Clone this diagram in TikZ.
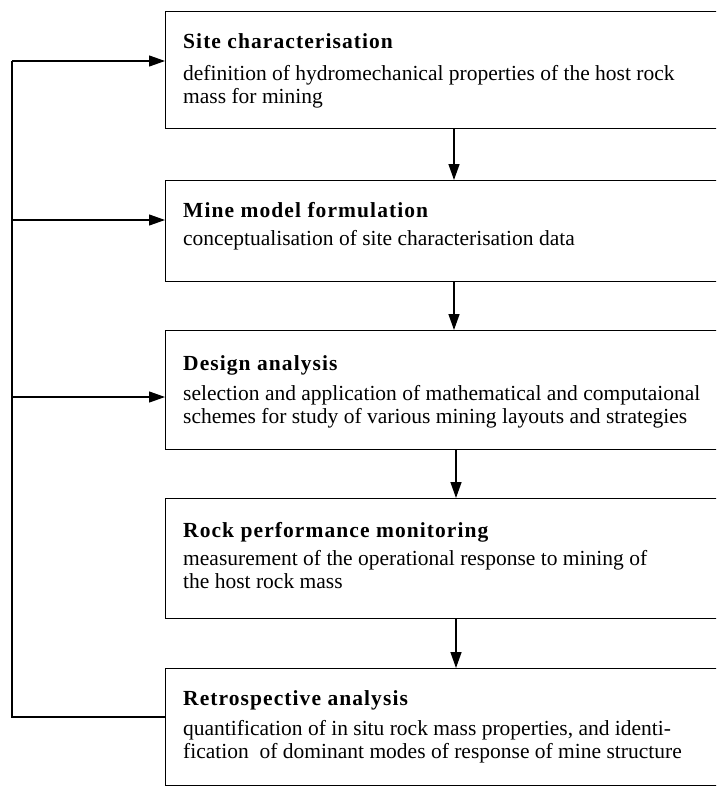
\documentclass[tikz,border=0pt]{standalone}
\usepackage{fontspec}
\setmainfont{Liberation Serif}
\newfontfamily\titlefont[LetterSpace=5]{Liberation Serif Bold}
\usetikzlibrary{arrows.meta}
\begin{document}
\begin{tikzpicture}[x=1pt,y=-1pt,
  stagebox/.style={draw,line width=1.4pt,anchor=north west,minimum width=600pt,inner sep=0pt},
  ttl/.style={anchor=base west,inner sep=0pt,font=\titlefont\fontsize{21.5}{23}\selectfont},
  body/.style={anchor=base west,inner sep=0pt,font=\fontsize{21.5}{23}\selectfont},
  flow/.style={line width=1.4pt,-{Triangle[length=16pt,width=11pt]}},
  loop/.style={line width=1.2pt}]
\useasboundingbox (0,0) rectangle (716,787);
\clip (0,0) rectangle (716,787);

% process stages
\node[stagebox,minimum height=117pt] (b1) at (165,11) {};
\node[stagebox,minimum height=101pt] (b2) at (165,180) {};
\node[stagebox,minimum height=119pt] (b3) at (165,330) {};
\node[stagebox,minimum height=120pt] (b4) at (165,498) {};
\node[stagebox,minimum height=117pt] (b5) at (165,668) {};

% stage texts
\node[ttl] (t1) at (183,48) {Site characterisation};
\node[body] (d1) at (183,80) {\begin{tabular}[t]{@{}l@{}}definition of hydromechanical properties of the host rock\\mass for mining\end{tabular}};

\node[ttl] (t2) at (183,217) {Mine model formulation};
\node[body] (d2) at (183,245) {\begin{tabular}[t]{@{}l@{}}conceptualisation of site characterisation data\end{tabular}};

\node[ttl] (t3) at (183,370) {Design analysis};
\node[body] (d3) at (183,400) {\begin{tabular}[t]{@{}l@{}}selection and application of mathematical and computaional\\schemes for study of various mining layouts and strategies\end{tabular}};

\node[ttl] (t4) at (183,537) {Rock performance monitoring};
\node[body] (d4) at (183,565) {\begin{tabular}[t]{@{}l@{}}measurement of the operational response to mining of\\the host rock mass\end{tabular}};

\node[ttl] (t5) at (183,705) {Retrospective analysis};
\node[body] (d5) at (183,735) {\begin{tabular}[t]{@{}l@{}}quantification of in situ rock mass properties, and identi-\\fication\ \ of dominant modes of response of mine structure\end{tabular}};

% downward flow between stages
\draw[flow] (b1.south -| 454,0) -- (b2.north -| 454,0);
\draw[flow] (b2.south -| 454,0) -- (b3.north -| 454,0);
\draw[flow] (b3.south -| 456,0) -- (b4.north -| 456,0);
\draw[flow] (b4.south -| 456,0) -- (b5.north -| 456,0);

% feedback loop from the retrospective analysis
\coordinate (fbBottom) at (12,717);
\coordinate (fbTop) at (12,61);
\coordinate (fbMid2) at (12,220);
\coordinate (fbMid3) at (12,397);
\draw[loop] (b5.west |- fbBottom) -- (fbBottom) -- (fbTop);
\draw[flow,line width=1.2pt] (fbTop) -- (b1.west |- fbTop);
\draw[flow,line width=1.2pt] (fbMid2) -- (b2.west |- fbMid2);
\draw[flow,line width=1.2pt] (fbMid3) -- (b3.west |- fbMid3);
\end{tikzpicture}
\end{document}
